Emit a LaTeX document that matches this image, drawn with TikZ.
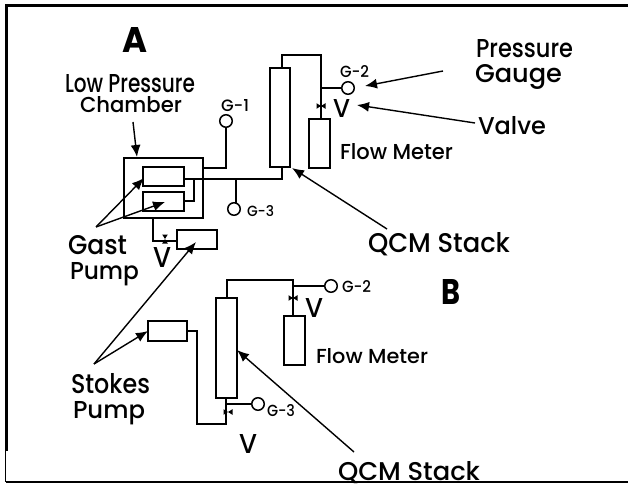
\documentclass[tikz,border=0pt]{standalone}
\usepackage{graphicx}
\usepackage{fontspec}
\setmainfont{Poppins Medium}[BoldFont={Poppins Bold}]
\usetikzlibrary{arrows.meta}
\newcommand{\fit}[3]{\resizebox{#1pt}{#2pt}{#3}}
\tikzset{
  x=1pt,y=-1pt,
  lab/.style={anchor=base west,inner sep=0pt,outer sep=0pt,text=black},
  boxn/.style={draw=black,fill=white,line width=1.9pt,inner sep=0pt,outer sep=0pt},
  thinbox/.style={boxn,line width=1.4pt},
  gauge/.style={draw=black,fill=white,circle,line width=1.5pt,minimum size=12.5pt,inner sep=0pt,outer sep=0pt},
  pipe/.style={draw=black,line width=1.6pt,line join=miter},
  callout/.style={draw=black,line width=1.4pt,-{Latex[length=12pt,width=10pt]}},
  frame/.style={draw=black,line width=3pt},
  thinframe/.style={draw=black,line width=1.4pt},
  valve/.pic={\fill[black] (-4.5,-2.8) -- (4.5,2.8) -- (4.5,-2.8) -- (-4.5,2.8) -- cycle;}
}
\begin{document}
\begin{tikzpicture}
\useasboundingbox (0,0) rectangle (628,486);
% frame
\coordinate (ftr) at (628,6);
\coordinate (ftl) at (6,6);
\coordinate (fml) at (6,451);
\coordinate (fbl) at (5.5,482);
\coordinate (fbr) at (628,482);
\coordinate (fmt) at (5.5,451);
\draw[frame] (ftr) -- (ftl) -- (fml);
\draw[thinframe] (fmt) -- (fbl);
\draw[frame,line width=2.2pt] (fbl) -- (fbr);

% ----- A -----
\node[boxn,minimum width=79pt,minimum height=60pt] (chamber) at (163.5,188) {};
\node[boxn,minimum width=41pt,minimum height=19pt] (pumpU) at (163.5,176.5) {};
\node[boxn,minimum width=41pt,minimum height=19pt] (pumpL) at (163.5,201.5) {};
\node[boxn,minimum width=40pt,minimum height=19pt] (pumpS) at (197,239.5) {};
\node[boxn,line width=2.2pt,minimum width=20pt,minimum height=99pt] (stackA) at (280,117.5) {};
\node[thinbox,minimum width=21pt,minimum height=49pt] (flowA) at (319.5,143.5) {};
\node[gauge] (g1) at (226,121) {};
\node[gauge] (g2a) at (348,88) {};
\node[gauge] (g3a) at (234,209) {};
\coordinate (jBottomA) at (282,179);
\coordinate (jG3) at (236,179);
\coordinate (jInner) at (194,179);
\coordinate (jTopL) at (282,55);
\coordinate (jTopR) at (321,55);
\coordinate (jG2) at (321,88);
\coordinate (pumpUout) at (184,179);
\coordinate (pumpLout) at (184,201);
\coordinate (chTop) at (203,168);
\coordinate (gastDown) at (153,218);
\coordinate (gastCorner) at (153,241);
\coordinate (stackAbot) at (282,167);
\coordinate (stackAtop) at (282,68);
\coordinate (flowAtop) at (321,119);

\draw[pipe] (chTop) -| (g1.south);
\draw[pipe] (pumpUout) -- (jBottomA) -- (stackAbot);
\draw[pipe] (jG3) -- (jG3 |- g3a.north);
\draw[pipe] (pumpLout) -| (jInner);
\draw[pipe] (stackAtop) -- (jTopL) -- (jTopR) -- (flowAtop);
\draw[pipe] (jG2) -- (g2a.west);
\draw[pipe] (gastDown) -- (gastCorner) -- (pumpS.west |- gastCorner);
\pic at (321,106) {valve};
\pic[rotate=90] at (165,239) {valve};

% ----- B -----
\node[boxn,minimum width=39pt,minimum height=20pt] (pumpB) at (167.5,331) {};
\node[boxn,line width=2.2pt,minimum width=21pt,minimum height=100pt] (stackB) at (226.5,348) {};
\node[thinbox,minimum width=21pt,minimum height=49pt] (flowB) at (294.5,340.5) {};
\node[gauge] (g2b) at (331,286) {};
\node[gauge] (g3b) at (258,404) {};
\coordinate (bTopL) at (227,280);
\coordinate (bTopR) at (293,280);
\coordinate (bG2) at (293,286);
\coordinate (bStackTop) at (227,298);
\coordinate (bFlowTop) at (293,316);
\coordinate (bStackBot) at (226,398);
\coordinate (bLowR) at (226,424);
\coordinate (bLowL) at (197,424);
\coordinate (bPumpR) at (197,331);
\coordinate (bG3) at (226,404);
\draw[pipe] (bStackTop) -- (bTopL) -- (bTopR) -- (bFlowTop);
\draw[pipe] (bG2) -- (g2b.west);
\draw[pipe] (pumpB.east) -- (bPumpR) -- (bLowL) -- (bLowR) -- (bStackBot);
\draw[pipe] (bG3) -- (g3b.west);
\pic at (293,298) {valve};
\pic at (228,412) {valve};

% ----- callouts -----
\coordinate (lpcS) at (133,122);
\coordinate (lpcT) at (137,157);
\coordinate (gastS) at (96,227);
\coordinate (gastU) at (144,178);
\coordinate (gastL) at (165,202);
\coordinate (stokesS) at (94,364);
\coordinate (stokesB) at (148,331);
\coordinate (stokesA) at (196,242);
\coordinate (pgS) at (443,71);
\coordinate (pgT) at (365,86);
\coordinate (vS) at (475,123);
\coordinate (vT) at (357,105);
\coordinate (qaS) at (387,229);
\coordinate (qaT) at (292,168);
\coordinate (qbS) at (354,452);
\coordinate (qbT) at (237,350);
\draw[callout] (lpcS) -- (lpcT);
\draw[callout] (gastS) -- (gastU);
\draw[callout] (gastS) -- (gastL);
\draw[callout] (stokesS) -- (stokesB);
\draw[callout] (stokesS) -- (stokesA);
\draw[callout] (pgS) -- (pgT);
\draw[callout] (vS) -- (vT);
\draw[callout] (qaS) -- (qaT);
\draw[callout] (qbS) -- (qbT);

% ----- labels -----
\node[lab] (tA) at (122,53) {\fit{25}{25}{\bfseries A}};
\node[lab] (tB) at (441,304) {\fit{19}{25}{\bfseries B}};
\node[lab] (tLow) at (65,93) {\fit{130}{18}{Low Pressure}};
\node[lab] (tCh) at (80,113) {\fit{102}{16}{Chamber}};
\node[lab] (tPr) at (476,58) {\fit{97}{18}{Pressure}};
\node[lab] (tGa) at (475,83) {\fit{87}{18}{Gauge}};
\node[lab] (tVa) at (478,135) {\fit{68}{18}{Valve}};
\node[lab] (tFa) at (340,160) {\fit{113}{16}{Flow Meter}};
\node[lab] (tFb) at (316,363) {\fit{112}{15}{Flow Meter}};
\node[lab] (tQa) at (368,252) {\fit{142}{20}{QCM Stack}};
\node[lab] (tQb) at (338,480) {\fit{142}{19}{QCM Stack}};
\node[lab] (tGast) at (68,254) {\fit{59}{19}{Gast}};
\node[lab] (tGp) at (70,279) {\fit{69}{17}{Pump}};
\node[lab] (tSt) at (71,393) {\fit{79}{20}{Stokes}};
\node[lab] (tSp) at (73,418) {\fit{72}{17}{Pump}};
\node[lab] (tG1) at (221,112) {\fit{28}{12}{G-1}};
\node[lab] (tG2a) at (340,78) {\fit{29}{12}{G-2}};
\node[lab] (tG3a) at (247,216) {\fit{27}{11}{G-3}};
\node[lab] (tG2b) at (342,292) {\fit{29}{12}{G-2}};
\node[lab] (tG3b) at (267,416) {\fit{28}{12}{G-3}};
\node[lab] (tV1) at (333,118) {\fit{17}{18}{V}};
\node[lab] (tV2) at (153,267) {\fit{18}{20}{V}};
\node[lab] (tV3) at (305,317) {\fit{18}{19}{V}};
\node[lab] (tV4) at (239,453) {\fit{18}{19}{V}};
\end{tikzpicture}
\end{document}
